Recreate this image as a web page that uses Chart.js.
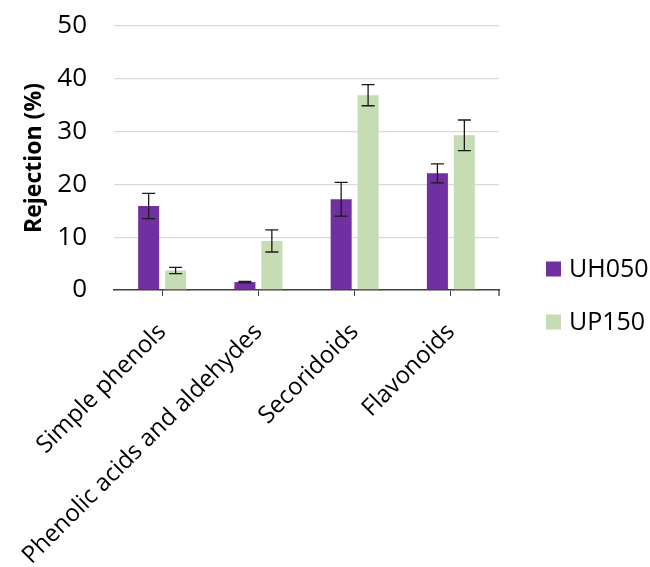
<!DOCTYPE html>
<html>
<head>
<meta charset="utf-8">
<script src="https://cdn.jsdelivr.net/npm/chart.js@4"></script>
<style>
    html, body { margin: 0; padding: 0; background: #fff; }
    #wrap { width: 650px; height: 567px; position: relative; }
</style>
</head>
<body>
<div id="wrap"><canvas id="rejectionChart"></canvas></div>
<script>
// Chart data
const categories = ['Simple phenols', 'Phenolic acids and aldehydes', 'Secoridoids', 'Flavonoids'];
const seriesNames = ['UH050', 'UP150'];
const uh050Values = [15.9, 1.5, 17.2, 22.1];
const uh050Errors = [2.4, 0.15, 3.2, 1.8];
const up150Values = [3.7, 9.3, 36.9, 29.3];
const up150Errors = [0.6, 2.1, 2.0, 2.9];
const yTicks = [0, 10, 20, 30, 40, 50];

const colors = ['#7030a0', '#c5dcb4'];
const FONT = '"Open Sans", sans-serif';

// ============================================================================
// ERROR BARS + LEGEND
// ============================================================================

const errorBarPlugin = {
    id: 'errorBars',
    afterDatasetsDraw(chart) {
        const ctx = chart.ctx;
        const yScale = chart.scales.y;
        const errors = [uh050Errors, up150Errors];
        ctx.save();
        ctx.strokeStyle = '#1a1a1a';
        ctx.lineWidth = 1.3;
        chart.data.datasets.forEach((ds, i) => {
            const meta = chart.getDatasetMeta(i);
            meta.data.forEach((bar, j) => {
                const v = ds.data[j];
                const e = errors[i][j];
                const yTop = yScale.getPixelForValue(v + e);
                const yBot = yScale.getPixelForValue(v - e);
                const x = bar.x;
                ctx.beginPath();
                ctx.moveTo(x, yTop); ctx.lineTo(x, yBot);
                ctx.moveTo(x - 6.5, yTop); ctx.lineTo(x + 6.5, yTop);
                ctx.moveTo(x - 6.5, yBot); ctx.lineTo(x + 6.5, yBot);
                ctx.stroke();
            });
        });
        // closing tick at right end of the category axis
        const area = chart.chartArea;
        ctx.strokeStyle = '#404040';
        ctx.beginPath();
        ctx.moveTo(area.right, area.bottom);
        ctx.lineTo(area.right, area.bottom + 6);
        ctx.stroke();
        ctx.restore();
    }
};

const sideLegendPlugin = {
    id: 'sideLegend',
    afterDraw(chart) {
        const ctx = chart.ctx;
        ctx.save();
        ctx.font = '25px ' + FONT;
        ctx.textBaseline = 'middle';
        ctx.textAlign = 'left';
        chart.data.datasets.forEach((ds, i) => {
            const cy = 269 + i * 53;
            ctx.fillStyle = ds.backgroundColor;
            ctx.fillRect(546, cy - 7.5, 15, 15);
            ctx.fillStyle = '#000';
            ctx.fillText(ds.label, 569, cy + 1);
        });
        ctx.restore();
    }
};

// ============================================================================
// REJECTION CHART
// ============================================================================

const ctx = document.getElementById('rejectionChart');

new Chart(ctx, {
    type: 'bar',
    data: {
        labels: categories,
        datasets: [{
            label: seriesNames[0],
            data: uh050Values,
            backgroundColor: colors[0]
        }, {
            label: seriesNames[1],
            data: up150Values,
            backgroundColor: colors[1]
        }]
    },
    options: {
        responsive: true,
        maintainAspectRatio: false,
        animation: false,
        categoryPercentage: 0.56,
        barPercentage: 0.78,
        layout: {
            padding: { top: 26, right: 151, left: 0, bottom: 0 }
        },
        plugins: {
            legend: { display: false },
            tooltip: { enabled: false }
        },
        scales: {
            x: {
                offset: true,
                grid: {
                    offset: false,
                    drawOnChartArea: false,
                    drawTicks: true,
                    tickLength: 6,
                    color: '#404040'
                },
                border: { color: '#404040', width: 1.5 },
                ticks: {
                    minRotation: 45,
                    maxRotation: 45,
                    autoSkip: false,
                    color: '#000',
                    padding: 22,
                    font: { family: FONT, size: 24 }
                },
                afterFit(scale) {
                    scale.height = 277;
                    scale.paddingLeft = 0;
                    scale.paddingRight = 0;
                }
            },
            y: {
                min: 0,
                max: 50,
                afterBuildTicks(scale) { scale.ticks = yTicks.map(v => ({ value: v })); },
                grid: { color: '#d9d9d9', lineWidth: 1.3, drawTicks: false },
                border: { display: false },
                ticks: {
                    color: '#000',
                    padding: 27,
                    font: { family: FONT, size: 26 }
                },
                title: {
                    display: true,
                    text: 'Rejection (%)',
                    color: '#000',
                    padding: { top: 21, bottom: 0 },
                    font: { family: FONT, size: 23, weight: 'bold' }
                },
                afterFit(scale) {
                    scale.width = 114;
                    scale.paddingTop = 0;
                    scale.paddingBottom = 0;
                }
            }
        }
    },
    plugins: [errorBarPlugin, sideLegendPlugin]
});
</script>
</body>
</html>
